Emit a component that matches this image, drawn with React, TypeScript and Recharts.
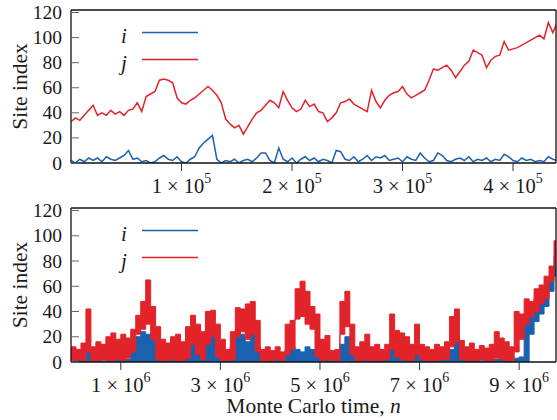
import { LineChart, Line, AreaChart, Area, XAxis, YAxis, ReferenceLine, Legend, Label } from "recharts";

const RED = "#e2232a";
const BLUE = "#1a62b0";
const SERIF = '"Liberation Serif", "Times New Roman", serif';

const yTicks = [0, 20, 40, 60, 80, 100, 120];

// upper panel: one sample every 4000 MC steps
const topStep = 4000;
const topTicks = [100000, 200000, 300000, 400000];
const topJ = [
  33, 36, 34, 38, 42, 46, 38, 40, 38, 42,
  39, 41, 38, 42, 43, 48, 41, 53, 55, 57,
  66, 67, 66, 64, 52, 48, 47, 50, 52, 55,
  58, 61, 58, 54, 48, 35, 31, 28, 30, 23,
  29, 35, 40, 42, 46, 50, 48, 44, 57, 50,
  44, 41, 43, 50, 45, 47, 41, 40, 33, 36,
  40, 48, 49, 51, 47, 45, 43, 41, 58, 49,
  44, 50, 54, 56, 57, 61, 55, 52, 54, 56,
  58, 66, 75, 74, 76, 78, 74, 68, 73, 78,
  81, 90, 88, 86, 76, 82, 85, 86, 97, 90,
  91, 92, 94, 96, 98, 100, 102, 99, 112, 104,
  112,
];
const topI = [
  2, 0, 3, 1, 4, 2, 4, 1, 5, 3,
  2, 4, 6, 10, 3, 4, 1, 2, 0, 1,
  4, 6, 3, 2, 5, 1, 0, 3, 5, 12,
  16, 19, 22, 3, 0, 2, 1, 3, 0, 2,
  3, 1, 4, 8, 8, 2, 0, 12, 3, 1,
  4, 0, 3, 5, 2, 4, 1, 3, 2, 0,
  10, 9, 3, 2, 5, 1, 3, 6, 2, 5,
  4, 6, 2, 3, 4, 1, 5, 3, 2, 8,
  4, 1, 2, 8, 6, 2, 1, 3, 4, 2,
  5, 1, 3, 2, 4, 1, 3, 2, 7, 5,
  2, 1, 4, 2, 3, 1, 2, 1, 5, 3,
  2,
];

// lower panel: min / max envelope per 1e5-step window
const bottomStep = 100000;
const bottomTicks = [1000000, 3000000, 5000000, 7000000, 9000000];
const bottomJLo = [
  1, 2, 1, 8, 1, 1, 2, 1, 1, 2, 1, 3, 8, 22, 26, 30, 18, 2, 1, 1,
  2, 1, 1, 3, 14, 6, 2, 14, 20, 4, 1, 1, 2, 20, 24, 18, 22, 8, 1, 1,
  1, 2, 1, 6, 10, 34, 36, 30, 26, 4, 1, 2, 1, 1, 22, 28, 6, 1, 1, 2,
  1, 1, 1, 2, 10, 4, 2, 1, 1, 6, 2, 1, 1, 1, 2, 2, 12, 16, 2, 1,
  1, 1, 2, 1, 1, 3, 2, 1, 1, 8, 18, 30, 36, 40, 46, 50, 64, 76, 88,
];
const bottomJHi = [
  12, 10, 15, 42, 12, 16, 14, 20, 23, 18, 22, 19, 26, 37, 48, 65, 44, 28, 18, 15,
  20, 22, 16, 28, 37, 30, 24, 40, 41, 30, 18, 10, 24, 43, 42, 46, 48, 33, 10, 12,
  9, 12, 8, 30, 33, 58, 64, 56, 44, 38, 18, 21, 9, 10, 48, 56, 30, 12, 16, 22,
  12, 14, 10, 14, 38, 25, 23, 20, 14, 30, 14, 12, 10, 14, 12, 16, 36, 42, 17, 12,
  15, 10, 13, 11, 14, 24, 19, 16, 12, 40, 38, 50, 48, 58, 61, 68, 76, 96, 108,
];
const bottomILo = [
  0, 0, 0, 0, 0, 0, 0, 0, 0, 0, 0, 0, 0, 0, 0, 0, 0, 0, 0, 0,
  0, 0, 0, 0, 0, 0, 0, 0, 0, 0, 0, 0, 0, 0, 0, 0, 0, 0, 0, 0,
  0, 0, 0, 0, 0, 0, 0, 0, 0, 0, 0, 0, 0, 0, 0, 0, 0, 0, 0, 0,
  0, 0, 0, 0, 0, 0, 0, 0, 0, 0, 0, 0, 0, 0, 0, 0, 0, 0, 0, 0,
  0, 0, 0, 0, 0, 0, 0, 0, 0, 0, 0, 0, 22, 32, 38, 44, 56, 68, 80,
];
const bottomIHi = [
  3, 2, 4, 12, 2, 3, 1, 2, 4, 2, 6, 2, 10, 20, 24, 22, 20, 4, 2, 3,
  2, 5, 3, 6, 18, 14, 8, 26, 22, 10, 4, 2, 12, 26, 22, 16, 31, 12, 2, 1,
  2, 3, 2, 10, 12, 10, 8, 12, 10, 6, 2, 3, 1, 2, 14, 20, 6, 2, 3, 6,
  2, 2, 1, 3, 14, 13, 4, 2, 3, 8, 2, 1, 2, 1, 3, 2, 10, 21, 4, 2,
  1, 2, 1, 2, 1, 2, 3, 2, 1, 3, 4, 37, 40, 50, 52, 60, 68, 84, 94,
];

const topData = topJ.map((j, n) => ({ t: n * topStep, j, i: topI[n] }));
const bottomData = bottomJHi.map((hi, n) => ({
  t: n * bottomStep,
  j: [bottomJLo[n], hi],
  i: [bottomILo[n], bottomIHi[n]],
}));

const serifStyle = { fontFamily: SERIF };

function SciTick({ x, y, payload }: any) {
  const exp = Math.floor(Math.log10(payload.value) + 1e-9);
  const mant = Math.round(payload.value / Math.pow(10, exp));
  return (
    <text x={x} y={y} dy={20} textAnchor="middle" fontFamily={SERIF} style={serifStyle} fontSize={20.5} fill="#1a1a1a">
      <tspan>{mant} × 10</tspan>
      <tspan dy={-10} fontSize={14}>{exp}</tspan>
    </text>
  );
}

function YTick({ x, y, payload }: any) {
  return (
    <text x={x} y={y} dy={6.5} textAnchor="end" fontFamily={SERIF} style={serifStyle} fontSize={19.5} fill="#1a1a1a">
      {payload.value}
    </text>
  );
}

function SiteLabel({ viewBox }: any) {
  const cx = viewBox.x + 20;
  const cy = viewBox.y + viewBox.height / 2;
  return (
    <text x={cx} y={cy} dy={7} transform={`rotate(-90 ${cx} ${cy})`} textAnchor="middle"
      fontFamily={SERIF} style={serifStyle} fontSize={21.5} fill="#1a1a1a">
      Site index
    </text>
  );
}

function TimeLabel({ viewBox }: any) {
  return (
    <text x={viewBox.x + viewBox.width / 2} y={viewBox.y + 51} textAnchor="middle" fontFamily={SERIF} style={serifStyle} fontSize={21.5} fill="#1a1a1a">
      Monte Carlo time, <tspan fontStyle="italic">n</tspan>
    </text>
  );
}

function PanelLegend() {
  return (
    <svg width={100} height={62} style={{ display: "block" }}>
      <text x={14} y={28} textAnchor="middle" style={serifStyle} fontSize={21} fontStyle="italic" fill="#1a1a1a">i</text>
      <line x1={32} x2={88} y1={17.5} y2={17.5} stroke={BLUE} strokeWidth={1.5} />
      <text x={14} y={55} textAnchor="middle" style={serifStyle} fontSize={21} fontStyle="italic" fill="#1a1a1a">j</text>
      <line x1={32} x2={88} y1={44.5} y2={44.5} stroke={RED} strokeWidth={1.5} />
    </svg>
  );
}

const axisLine = { stroke: "#111", strokeWidth: 1.3 };

function Frame({ xTicks, xMax, xHeight, label }: { xTicks: number[]; xMax: number; xHeight: number; label?: boolean }) {
  return [
    <XAxis key="x" dataKey="t" type="number" domain={[0, xMax]} allowDataOverflow ticks={xTicks} interval={0}
      tick={<SciTick />} tickSize={8} tickMargin={2} height={xHeight}
      axisLine={axisLine} tickLine={{ stroke: "#333" }}>
      {label ? <Label content={<TimeLabel />} /> : null}
    </XAxis>,
    <YAxis key="yl" yAxisId="l" domain={[0, 122]} ticks={yTicks} interval={0} allowDataOverflow width={71}
      tickSize={-8} tickMargin={17} tick={<YTick />} axisLine={axisLine} tickLine={{ stroke: "#666" }}>
      <Label content={<SiteLabel />} />
    </YAxis>,
    <YAxis key="yr" yAxisId="r" orientation="right" domain={[0, 122]} ticks={yTicks} interval={0} width={1}
      tickSize={-8} tick={false} axisLine={axisLine} tickLine={{ stroke: "#666" }} />,
    <ReferenceLine key="top" yAxisId="l" y={122} stroke="#111" strokeWidth={1.3} />,
    <Legend key="lg" layout="horizontal" verticalAlign="middle" align="center"
      content={<PanelLegend />} wrapperStyle={{ left: 110, top: 15, width: 100 }} />,
  ];
}

export default function App() {
  return (
    <div style={{ position: "absolute", left: 0, top: 0, width: 557, height: 420, background: "#fff" }}>
      <div style={{ position: "absolute", left: 0, top: 0 }}>
        <LineChart width={557} height={200} data={topData} margin={{ top: 10, right: 0, bottom: 0, left: 0 }}>
          {Frame({ xTicks: topTicks, xMax: 438900, xHeight: 37 })}
          <Line yAxisId="l" type="linear" dataKey="i" stroke={BLUE} strokeWidth={1.5} dot={false} activeDot={false} isAnimationActive={false} />
          <Line yAxisId="l" type="linear" dataKey="j" stroke={RED} strokeWidth={1.5} dot={false} activeDot={false} isAnimationActive={false} />
        </LineChart>
      </div>
      <div style={{ position: "absolute", left: 0, top: 198 }}>
        <AreaChart width={557} height={222} data={bottomData} margin={{ top: 10, right: 0, bottom: 0, left: 0 }}>
          {Frame({ xTicks: bottomTicks, xMax: 9740000, xHeight: 58, label: true })}
          <Area yAxisId="l" type="stepAfter" dataKey="i" stroke={BLUE} strokeWidth={1} fill={BLUE} fillOpacity={1} dot={false} activeDot={false} isAnimationActive={false} />
          <Area yAxisId="l" type="stepAfter" dataKey="j" stroke={RED} strokeWidth={1} fill={RED} fillOpacity={1} dot={false} activeDot={false} isAnimationActive={false} />
        </AreaChart>
      </div>
    </div>
  );
}
